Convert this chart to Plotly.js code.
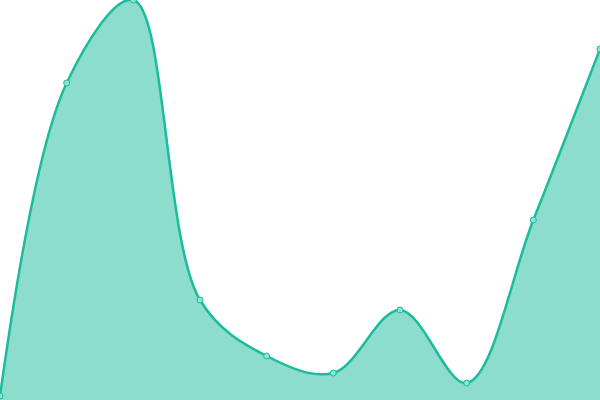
<!DOCTYPE html>
<html>
<head>
<meta charset="utf-8">
<script src="https://cdn.plot.ly/plotly-3.0.1.min.js"></script>
<style>
  html, body { margin: 0; padding: 0; background: #fff; }
  #chart { width: 600px; height: 400px; }
</style>
</head>
<body>
<div id="chart"></div>
<script>
// valores
var pontos = [0, 1, 2, 3, 4, 5, 6, 7, 8, 9];
var valores = [4, 317, 400, 100, 44, 27, 90, 17, 180, 351];

var verde = '#1abc9c';

var trace = {
  x: pontos,
  y: valores,
  type: 'scatter',
  mode: 'lines+markers',
  fill: 'tozeroy',
  fillcolor: 'rgba(26,188,156,0.5)',
  line: { color: verde, width: 2.5, shape: 'spline', smoothing: 1 },
  marker: { size: 6, color: '#8fe3d3', line: { color: verde, width: 1 } },
  cliponaxis: false,
  hoverinfo: 'none'
};

var layout = {
  width: 600,
  height: 400,
  margin: { l: 0, r: 0, t: 0, b: 0 },
  paper_bgcolor: '#fff',
  plot_bgcolor: '#fff',
  showlegend: false,
  xaxis: { range: [0, 9], visible: false, fixedrange: true },
  yaxis: { range: [0, 400], visible: false, fixedrange: true }
};

Plotly.newPlot('chart', [trace], layout, { staticPlot: true });
</script>
</body>
</html>
